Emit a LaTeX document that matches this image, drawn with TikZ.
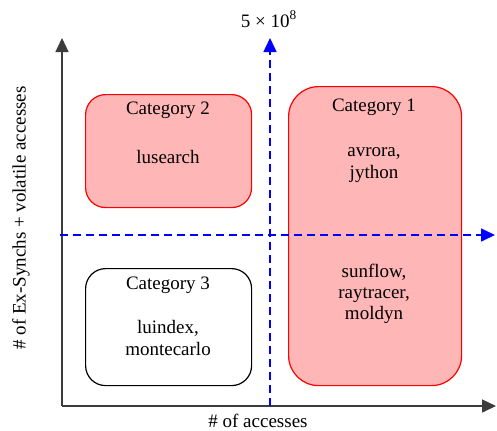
\documentclass[tikz,border=0pt]{standalone}
\usepackage{fontspec}
\setmainfont{Liberation Serif}
\usetikzlibrary{arrows.meta,positioning}

\definecolor{catfill}{RGB}{255,182,182}
\definecolor{axisgray}{RGB}{60,60,60}

\tikzset{
  axis/.style={draw=axisgray,line width=0.75pt,-{Triangle[length=7pt,width=6.5pt]}},
  split/.style={draw=blue,line width=0.75pt,dash pattern=on 4pt off 2.5pt,-{Triangle[length=7pt,width=6.5pt,fill=blue]}},
  catbox/.style={draw=red,fill=catfill,rounded corners=10pt,line width=0.6pt,anchor=north west},
  plainbox/.style={draw=black,fill=white,rounded corners=10pt,line width=0.6pt,anchor=north west},
  lbl/.style={align=center,inner sep=0pt,font=\fontsize{9.5}{10.6}\selectfont}
}

\begin{document}
\begin{tikzpicture}[x=0.5pt,y=-0.5pt]
  \useasboundingbox (0,0) rectangle (497,430);

  % category boxes
  \node[catbox,minimum width=83pt,minimum height=56.5pt] (cat2) at (85,94) {};
  \node[catbox,rounded corners=15pt,minimum width=86.5pt,minimum height=149.5pt] (cat1) at (288,86) {};
  \node[plainbox,minimum width=83pt,minimum height=58.5pt] (cat3) at (85,268) {};

  \node[lbl] (cat2title) at (168,110) {Category 2};
  \node[lbl] (cat2apps) at (168,157) {lusearch};
  \node[lbl] (cat1title) at (374,107) {Category 1};
  \node[lbl] (cat1top) at (374,165) {avrora,\\ jython};
  \node[lbl] (cat1low) at (374,294) {sunflow,\\ raytracer,\\ moldyn};
  \node[lbl] (cat3title) at (168,285) {Category 3};
  \node[lbl] (cat3apps) at (168,338) {luindex,\\ montecarlo};

  % axes
  \coordinate (origin) at (62,406);
  \coordinate (ytop) at (62,38);
  \coordinate (xend) at (496,406);
  \draw[axis] (origin) -- (ytop);
  \draw[axis] (origin) -- (xend);

  % thresholds
  \coordinate (vbase) at (270,406);
  \coordinate (vtop) at (270,38);
  \coordinate (hbase) at (60,235);
  \coordinate (hend) at (495,235);
  \draw[split] (vbase) -- (vtop);
  \draw[split] (hbase) -- (hend);

  \node[lbl] (thresh) at (269,19) {5 × 10\textsuperscript{8}};
  \node[lbl] (xlabel) at (258,421) {\# of accesses};
  \node[lbl,rotate=90] (ylabel) at (21,218) {\# of Ex-Synchs + volatile accesses};
\end{tikzpicture}
\end{document}
